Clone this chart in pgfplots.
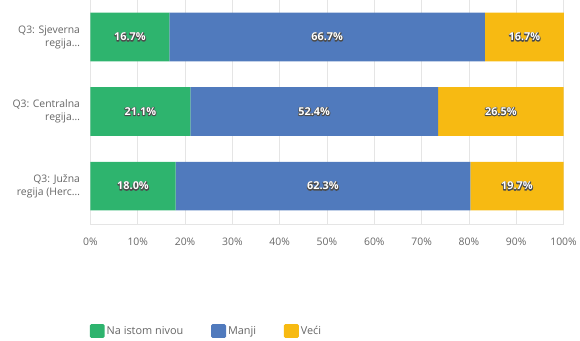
\documentclass[border=0pt]{standalone}
\usepackage{pgfplots}
\pgfplotsset{compat=1.18}
\usepackage{fontspec}
\setmainfont{Open Sans}
\definecolor{smgreen}{HTML}{2EB46E}
\definecolor{smblue}{HTML}{507ABD}
\definecolor{smyellow}{HTML}{F7BA12}
\definecolor{labgray}{HTML}{666666}
\newcommand\outlined[1]{\textcolor{white}{\rlap{\special{pdf:code 2 Tr 1.5 w 0.3 0.3 0.3 RG 1 j}#1\special{pdf:code 0 Tr}}#1}}
\begin{document}
\begin{tikzpicture}
\begin{axis}[
  name=ax,
  at={(0,0)}, anchor=south west,
  xbar stacked,
  scale only axis,
  width=476bp, height=225bp,
  xmin=0, xmax=100,
  ymin=-0.507, ymax=2.493,
  bar width=49bp,
  xtick={0,10,...,100},
  xticklabel={\pgfmathprintnumber{\tick}\%},
  /pgf/number format/assume math mode=true,
  ytick={0,1,2},
  yticklabels={{Q3: Južna\\regija (Herc\ldots},{Q3: Centralna\\regija\ldots},{Q3: Sjeverna\\regija\ldots}},
  yticklabel style={align=right, font=\fontsize{10.5}{13}\selectfont, text=labgray, xshift=-7bp},
  xticklabel style={font=\fontsize{10.5}{12}\selectfont, text=labgray, yshift=-11bp},
  major tick length=0pt,
  xmajorgrids,
  grid style={draw=black!10, line width=0.6pt},
  axis x line*=bottom,
  axis y line*=left,
  axis line style={draw=black!10, line width=0.6pt, -},
  separate axis lines,
  y axis line style={draw=none},
  enlargelimits=false,
  clip=false,
  visualization depends on=rawx \as \rawx,
  nodes near coords={\outlined{\pgfmathprintnumber[fixed,precision=1,fixed zerofill]{\rawx}\%}},
  every node near coord/.append style={anchor=center, font=\bfseries\fontsize{11}{12}\selectfont},
  legend style={at={(-0.008,-0.48)}, anchor=west, draw=none, legend columns=-1,
    font=\fontsize{11}{13}\selectfont, text=labgray,
    /tikz/every even column/.append style={column sep=26bp}},
  legend image code/.code={\fill[#1, rounded corners=1.5pt] (0bp,-6.5bp) rectangle (15bp,7.5bp);},
]
\addplot[fill=smgreen, draw=none] coordinates {(18.0,0) (21.1,1) (16.7,2)};
\addplot[fill=smblue, draw=none] coordinates {(62.3,0) (52.4,1) (66.7,2)};
\addplot[fill=smyellow, draw=none] coordinates {(19.7,0) (26.5,1) (16.7,2)};
\legend{Na istom nivou, Manji, Veći}
\end{axis}
\path[use as bounding box] (-91bp,-117bp) rectangle (489bp,225bp);
\end{tikzpicture}
\end{document}
